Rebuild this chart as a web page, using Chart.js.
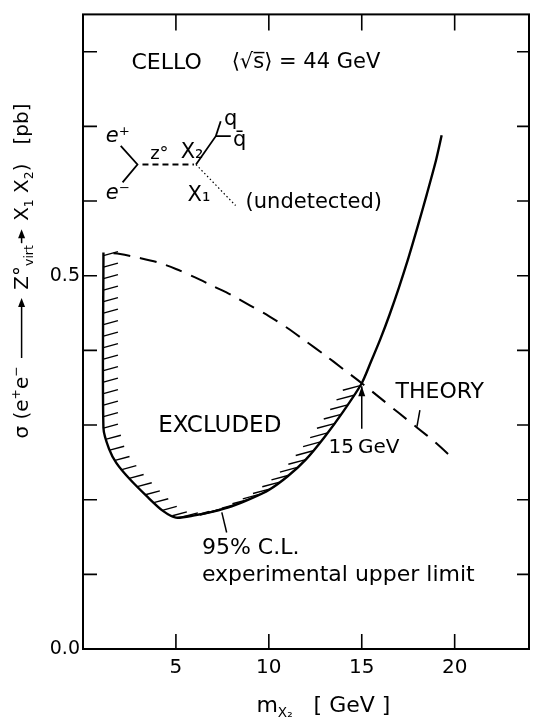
<!DOCTYPE html>
<html>
<head>
<meta charset="utf-8">
<script src="https://cdn.jsdelivr.net/npm/chart.js@4.4.4/dist/chart.umd.min.js"></script>
<style>
  html, body { margin: 0; padding: 0; background: #fff; }
  #wrap { width: 536px; height: 724px; }
</style>
</head>
<body>
<div id="wrap"><canvas id="chart" width="536" height="724"></canvas></div>
<script>
// CELLO: sigma(e+e- -> Z0virt -> X1 X2) vs m_X2, <sqrt s> = 44 GeV

// 95% C.L. experimental upper limit (GeV, pb)
const limitMass = [1.1, 1.1, 1.4, 1.8, 2.5, 3.5, 4.3, 5.0, 6.0, 7.0, 8.0, 9.0, 10.0, 11.0, 12.0, 13.0, 14.0, 15.0, 15.5, 16.0, 16.5, 17.0, 17.5, 18.0, 18.5, 19.0, 19.3]
const limitSigma = [0.531, 0.296, 0.268, 0.249, 0.228, 0.203, 0.185, 0.176, 0.179, 0.184, 0.191, 0.201, 0.213, 0.231, 0.254, 0.284, 0.318, 0.356, 0.385, 0.415, 0.448, 0.484, 0.523, 0.565, 0.609, 0.655, 0.688]

// theory prediction (GeV, pb)
const theoryMass = [1.1, 2, 3, 4, 5, 6, 7, 8, 9, 10, 11, 12, 13, 14, 15, 16, 17, 18, 19, 20]
const theorySigma = [0.531, 0.529, 0.524, 0.518, 0.509, 0.498, 0.486, 0.474, 0.460, 0.446, 0.430, 0.412, 0.394, 0.375, 0.356, 0.336, 0.316, 0.296, 0.276, 0.253]

const xTickLabels = [5, 10, 15, 20]
const yTickLabels = [0.0, 0.5]
const crossingMass = 15

const FONT = "DejaVu Sans"

// text notes placed in data units
const notes = [
  { text: "CELLO", x: 2.61, y: 0.785, size: 22 },
  { text: "\u27E8\u221As\u0305\u27E9 = 44 GeV", x: 8.0, y: 0.785, size: 21 },
  { text: "e\u207A", x: 1.87, y: 0.687, size: 21, style: "italic", align: "center" },
  { text: "e\u207B", x: 1.87, y: 0.610, size: 21, style: "italic", align: "center" },
  { text: "z\u00B0", x: 4.11, y: 0.662, size: 18, align: "center" },
  { text: "X\u2082", x: 5.87, y: 0.665, size: 21, align: "center" },
  { text: "q", x: 7.95, y: 0.709, size: 21, align: "center" },
  { text: "q\u0304", x: 8.43, y: 0.681, size: 21, align: "center" },
  { text: "X\u2081", x: 6.24, y: 0.607, size: 21, align: "center" },
  { text: "(undetected)", x: 8.75, y: 0.598, size: 21 },
  { text: "EXCLUDED", x: 7.36, y: 0.298, size: 23, align: "center" },
  { text: "THEORY", x: 19.2, y: 0.344, size: 22, align: "center" },
  { text: "15\u2009GeV", x: 15.12, y: 0.269, size: 20, align: "center" },
  { text: "95% C.L.", x: 6.4, y: 0.135, size: 22 },
  { text: "experimental upper limit", x: 6.4, y: 0.099, size: 22 }
]

// strokes of the diagram and pointers, data units
const strokes = [
  { pts: [[2.03, 0.674], [2.93, 0.649], [2.13, 0.625]], w: 1.8 },
  { pts: [[3.2, 0.649], [5.97, 0.649]], w: 2, dash: [6, 4] },
  { pts: [[6.08, 0.649], [7.15, 0.687], [7.95, 0.687]], w: 1.8 },
  { pts: [[7.15, 0.687], [7.41, 0.707]], w: 1.8 },
  { pts: [[6.08, 0.649], [8.21, 0.594]], w: 1.2, dash: [1.5, 2.5] },
  { pts: [[18.13, 0.320], [17.97, 0.298]], w: 1.5 },
  { pts: [[7.47, 0.183], [7.73, 0.156]], w: 1.5 },
  { pts: [[15, 0.295], [15, 0.352]], w: 1.5, head: true }
]

const yTitle = [
  { t: "\u03C3 (e" }, { t: "+", k: "sup" }, { t: "e" }, { t: "\u2212", k: "sup" }, { t: " " },
  { arrow: 60 }, { t: " Z\u00B0" }, { t: "virt", k: "sub" }, { arrow: 14 },
  { t: " X" }, { t: "1", k: "sub" }, { t: " X" }, { t: "2", k: "sub" }, { t: ")   [pb]" }
]
const xTitle = [{ t: "m" }, { t: "X\u2082", k: "sub" }, { t: "   [ GeV ]" }]

function setFont(ctx, size, k, style) {
  const s = k ? size * 0.62 : size
  ctx.font = `${style || ""} ${s}px "${FONT}"`
}

function partWidth(ctx, p, size) {
  if (p.arrow) return p.arrow + 4
  setFont(ctx, size, p.k)
  return ctx.measureText(p.t).width
}

function drawRich(ctx, parts, x0, y0, size, align) {
  const total = parts.reduce((s, p) => s + partWidth(ctx, p, size), 0)
  let cx = align === "center" ? x0 - total / 2 : x0
  ctx.textAlign = "left"
  ctx.textBaseline = "alphabetic"
  for (const p of parts) {
    const w = partWidth(ctx, p, size)
    if (p.arrow) {
      const ay = y0 - size * 0.32
      ctx.beginPath()
      ctx.moveTo(cx + 2, ay)
      ctx.lineTo(cx + 2 + p.arrow - 6, ay)
      ctx.stroke()
      ctx.beginPath()
      ctx.moveTo(cx + 2 + p.arrow, ay)
      ctx.lineTo(cx + 2 + p.arrow - 9, ay - 3.5)
      ctx.lineTo(cx + 2 + p.arrow - 9, ay + 3.5)
      ctx.closePath()
      ctx.fill()
    } else {
      setFont(ctx, size, p.k)
      const dy = p.k === "sup" ? -size * 0.42 : p.k === "sub" ? size * 0.24 : 0
      ctx.fillText(p.t, cx, y0 + dy)
    }
    cx += w
  }
}

const celloPlugin = {
  id: "cello",
  afterDatasetsDraw(chart) {
    const { ctx, chartArea: a, scales: { x, y } } = chart
    const px = v => x.getPixelForValue(v)
    const py = v => y.getPixelForValue(v)
    ctx.save()
    ctx.strokeStyle = "#000"
    ctx.fillStyle = "#000"
    ctx.lineCap = "butt"

    // hatching on the excluded side of the limit, up to the crossing
    const meta = chart.getDatasetMeta(0)
    const pts = meta.data.filter((p, i) => limitMass[i] <= crossingMass).map(p => [p.x, p.y])
    const ang = 15 * Math.PI / 180
    const d = [Math.cos(ang), -Math.sin(ang)]
    const gap = 11.5, hl = 15
    let pos = 3
    ctx.lineWidth = 1.4
    for (let i = 0; i < pts.length - 1; i++) {
      const [x0, y0] = pts[i], [x1, y1] = pts[i + 1]
      const L = Math.hypot(x1 - x0, y1 - y0)
      if (L === 0) continue
      const t = [(x1 - x0) / L, (y1 - y0) / L]
      const n = [t[1], -t[0]]
      const sgn = d[0] * n[0] + d[1] * n[1] >= 0 ? 1 : -1
      const len = sgn > 0 ? hl : hl + 3
      while (pos <= L) {
        const hx = x0 + t[0] * pos, hy = y0 + t[1] * pos
        ctx.beginPath()
        ctx.moveTo(hx, hy)
        ctx.lineTo(hx + sgn * d[0] * len, hy + sgn * d[1] * len)
        ctx.stroke()
        pos += gap
      }
      pos -= L
    }

    // frame and inward ticks
    ctx.lineWidth = 2
    ctx.strokeRect(a.left, a.top, a.right - a.left, a.bottom - a.top)
    ctx.lineWidth = 1.6
    for (const tk of y.ticks) {
      if (tk.value <= 0 || tk.value > 0.801) continue
      const yy = py(tk.value)
      ctx.beginPath()
      ctx.moveTo(a.left, yy); ctx.lineTo(a.left + 14, yy)
      ctx.moveTo(a.right, yy); ctx.lineTo(a.right - 12, yy)
      ctx.stroke()
    }
    for (const v of xTickLabels) {
      const xx = px(v)
      ctx.beginPath()
      ctx.moveTo(xx, a.bottom); ctx.lineTo(xx, a.bottom - 15)
      ctx.moveTo(xx, a.top); ctx.lineTo(xx, a.top + 16)
      ctx.stroke()
    }

    // diagram and pointer strokes
    for (const s of strokes) {
      ctx.lineWidth = s.w
      ctx.setLineDash(s.dash || [])
      ctx.beginPath()
      s.pts.forEach(([u, v], i) => i ? ctx.lineTo(px(u), py(v)) : ctx.moveTo(px(u), py(v)))
      ctx.stroke()
      ctx.setLineDash([])
      if (s.head) {
        const [u, v] = s.pts[s.pts.length - 1]
        const hx = px(u), hy = py(v)
        ctx.beginPath()
        ctx.moveTo(hx, hy)
        ctx.lineTo(hx - 3.5, hy + 10)
        ctx.lineTo(hx + 3.5, hy + 10)
        ctx.closePath()
        ctx.fill()
      }
    }

    // text notes
    ctx.textBaseline = "middle"
    for (const n of notes) {
      ctx.font = `${n.style || ""} ${n.size}px "${FONT}"`
      ctx.textAlign = n.align || "left"
      ctx.fillText(n.text, px(n.x), py(n.y))
    }

    // axis titles
    ctx.lineWidth = 1.5
    drawRich(ctx, xTitle, px(9.33), 712, 22, "left")
    ctx.translate(28, 271)
    ctx.rotate(-Math.PI / 2)
    drawRich(ctx, yTitle, 0, 0, 20, "center")
    ctx.restore()
  }
}

new Chart(document.getElementById("chart"), {
  type: "line",
  data: {
    datasets: [
      {
        label: "95% C.L. experimental upper limit",
        data: limitMass.map((m, i) => ({ x: m, y: limitSigma[i] })),
        borderColor: "#000",
        borderWidth: 2.4,
        tension: 0.25,
        pointRadius: 0,
        fill: false
      },
      {
        label: "Theory",
        data: theoryMass.map((m, i) => ({ x: m, y: theorySigma[i] })),
        borderColor: "#000",
        borderWidth: 2,
        borderDash: [17, 10],
        borderDashOffset: 17,
        tension: 0.3,
        pointRadius: 0,
        fill: false
      }
    ]
  },
  options: {
    responsive: false,
    animation: false,
    devicePixelRatio: 1,
    layout: { padding: { top: 11, right: 3, left: 0, bottom: 0 } },
    plugins: {
      legend: { display: false },
      tooltip: { enabled: false }
    },
    scales: {
      x: {
        type: "linear",
        min: 0,
        max: 24,
        grid: { display: false, drawTicks: false },
        border: { display: false },
        ticks: {
          stepSize: 5,
          padding: 7,
          color: "#000",
          font: { family: FONT, size: 20 },
          maxRotation: 0,
          autoSkip: false,
          callback: v => xTickLabels.includes(v) ? String(v) : ""
        },
        afterFit: s => { s.height = 75 }
      },
      y: {
        type: "linear",
        min: 0,
        max: 0.85,
        grid: { display: false, drawTicks: false },
        border: { display: false },
        ticks: {
          stepSize: 0.1,
          padding: 3,
          color: "#000",
          font: { family: FONT, size: 19 },
          autoSkip: false,
          callback: v => yTickLabels.some(t => Math.abs(t - v) < 1e-6) ? v.toFixed(1) : ""
        },
        afterFit: s => { s.width = 83 }
      }
    }
  },
  plugins: [celloPlugin]
})
</script>
</body>
</html>
